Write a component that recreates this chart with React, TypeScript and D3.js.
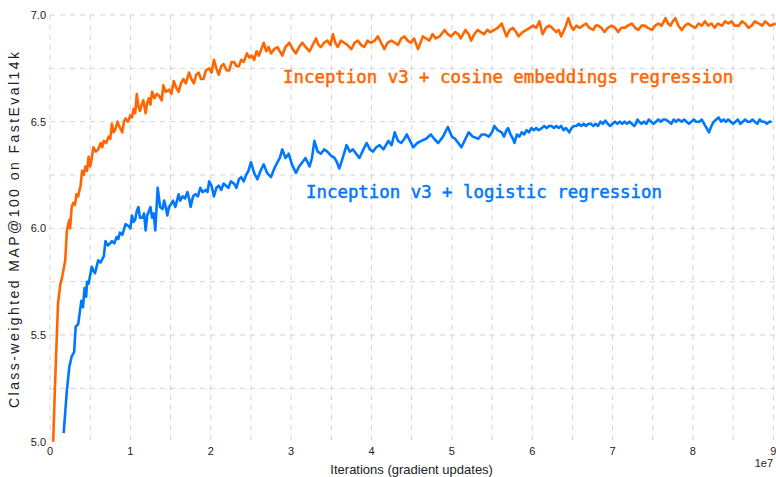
import React from "react";
import * as d3 from "d3";

// iterations in units of 1e7
const cosineIters = [0.04,0.06,0.10,0.13,0.15,0.19,0.21,0.24,0.25,0.27,0.29,0.31,0.33,0.35,0.38,0.40,0.42,0.44,0.46,0.48,0.50,0.52,0.54,0.57,0.60,0.63,0.65,0.67,0.70,0.73,0.75,0.77,0.79,0.81,0.84,0.86,0.90,0.92,0.94,0.97,1.00,1.02,1.04,1.06,1.08,1.10,1.12,1.14,1.16,1.19,1.21,1.23,1.25,1.27,1.30,1.33,1.36,1.39,1.41,1.44,1.48,1.51,1.54,1.57,1.60,1.63,1.66,1.69,1.73,1.76,1.79,1.82,1.85,1.88,1.91,1.94,1.98,2.01,2.04,2.07,2.10,2.13,2.16,2.20,2.23,2.26,2.29,2.32,2.35,2.38,2.41,2.45,2.48,2.51,2.54,2.57,2.60,2.63,2.66,2.69,2.72,2.75,2.79,2.83,2.86,2.89,2.93,2.98,3.02,3.06,3.10,3.14,3.18,3.23,3.27,3.31,3.34,3.37,3.41,3.45,3.49,3.52,3.55,3.58,3.62,3.66,3.70,3.75,3.79,3.83,3.87,3.91,3.95,3.99,4.04,4.08,4.12,4.16,4.20,4.25,4.29,4.33,4.37,4.41,4.45,4.49,4.53,4.58,4.64,4.68,4.72,4.76,4.80,4.85,4.91,4.95,4.99,5.04,5.08,5.11,5.14,5.17,5.21,5.24,5.28,5.32,5.36,5.40,5.44,5.48,5.53,5.57,5.62,5.65,5.68,5.72,5.76,5.80,5.83,5.88,5.93,5.97,6.01,6.05,6.09,6.13,6.17,6.21,6.25,6.30,6.33,6.36,6.41,6.45,6.48,6.51,6.55,6.59,6.63,6.67,6.71,6.76,6.79,6.82,6.86,6.90,6.94,6.99,7.03,7.07,7.11,7.15,7.19,7.24,7.28,7.32,7.36,7.40,7.44,7.49,7.53,7.57,7.61,7.66,7.69,7.72,7.75,7.78,7.82,7.86,7.90,7.94,7.98,8.03,8.07,8.11,8.15,8.19,8.23,8.27,8.31,8.36,8.40,8.44,8.48,8.52,8.57,8.61,8.65,8.69,8.73,8.77,8.82,8.86,8.90,8.93,8.96,9.03];
const cosineMAP = [5.00,5.24,5.65,5.74,5.77,5.85,5.99,6.04,6.00,6.10,6.12,6.11,6.16,6.15,6.20,6.27,6.25,6.29,6.27,6.335,6.29,6.33,6.38,6.36,6.37,6.40,6.38,6.41,6.40,6.43,6.42,6.49,6.45,6.46,6.50,6.48,6.45,6.50,6.515,6.50,6.53,6.52,6.56,6.54,6.63,6.57,6.55,6.58,6.60,6.54,6.59,6.61,6.58,6.64,6.61,6.63,6.62,6.60,6.67,6.64,6.65,6.63,6.69,6.66,6.64,6.68,6.70,6.68,6.73,6.70,6.68,6.72,6.73,6.70,6.70,6.74,6.75,6.73,6.79,6.75,6.72,6.76,6.77,6.74,6.74,6.78,6.78,6.76,6.76,6.79,6.78,6.82,6.80,6.81,6.79,6.83,6.81,6.84,6.87,6.83,6.85,6.82,6.84,6.85,6.83,6.81,6.85,6.87,6.84,6.82,6.85,6.87,6.85,6.83,6.86,6.89,6.86,6.85,6.87,6.88,6.86,6.91,6.87,6.85,6.88,6.87,6.86,6.84,6.87,6.88,6.86,6.85,6.88,6.87,6.88,6.90,6.87,6.84,6.87,6.88,6.87,6.86,6.89,6.90,6.88,6.87,6.89,6.84,6.90,6.89,6.88,6.91,6.89,6.90,6.93,6.91,6.90,6.92,6.91,6.89,6.91,6.93,6.91,6.88,6.91,6.93,6.92,6.91,6.93,6.92,6.93,6.94,6.96,6.93,6.90,6.93,6.94,6.92,6.90,6.92,6.93,6.94,6.95,6.94,6.97,6.91,6.94,6.95,6.94,6.92,6.93,6.90,6.94,6.985,6.95,6.93,6.95,6.94,6.95,6.96,6.94,6.93,6.95,6.95,6.94,6.92,6.94,6.95,6.94,6.92,6.94,6.94,6.95,6.96,6.94,6.93,6.95,6.95,6.94,6.93,6.95,6.96,6.95,6.985,6.96,6.95,6.97,6.985,6.95,6.93,6.95,6.96,6.95,6.94,6.96,6.95,6.97,6.95,6.96,6.94,6.96,6.95,6.97,6.96,6.97,6.95,6.95,6.97,6.96,6.94,6.95,6.97,6.96,6.95,6.97,6.96,6.95,6.96];

const logisticIters = [0.17,0.21,0.24,0.27,0.30,0.32,0.35,0.39,0.41,0.43,0.45,0.46,0.48,0.52,0.54,0.56,0.60,0.63,0.67,0.69,0.72,0.75,0.77,0.80,0.83,0.85,0.87,0.90,0.94,0.98,1.00,1.02,1.04,1.06,1.08,1.10,1.12,1.15,1.17,1.19,1.21,1.23,1.25,1.27,1.29,1.31,1.34,1.37,1.40,1.42,1.44,1.46,1.48,1.50,1.53,1.56,1.60,1.62,1.65,1.68,1.71,1.73,1.75,1.78,1.81,1.84,1.87,1.90,1.94,1.96,1.98,2.01,2.04,2.07,2.10,2.13,2.16,2.19,2.22,2.25,2.29,2.32,2.35,2.38,2.41,2.44,2.47,2.50,2.54,2.58,2.62,2.66,2.70,2.75,2.79,2.83,2.86,2.89,2.93,2.97,3.01,3.06,3.10,3.14,3.18,3.23,3.26,3.29,3.33,3.37,3.41,3.45,3.50,3.54,3.57,3.60,3.65,3.69,3.73,3.77,3.81,3.85,3.90,3.94,3.98,4.02,4.06,4.10,4.15,4.21,4.25,4.29,4.33,4.37,4.41,4.44,4.48,4.52,4.57,4.62,4.68,4.74,4.78,4.83,4.89,4.95,5.00,5.04,5.08,5.12,5.17,5.21,5.26,5.33,5.37,5.41,5.46,5.50,5.53,5.57,
  5.62,5.65,5.68,5.70,5.73,5.76,5.78,5.81,5.84,5.87,5.90,5.93,5.96,5.99,6.02,6.05,6.08,6.12,6.15,6.18,6.21,6.24,6.27,6.30,6.33,6.36,6.39,6.42,6.46,6.49,6.52,6.55,6.58,6.61,6.64,6.67,6.70,6.73,6.76,6.79,6.82,6.85,6.88,6.91,6.94,6.97,7.00,7.03,7.06,7.09,7.12,7.15,7.18,7.21,7.24,7.27,7.29,7.31,7.33,7.36,7.39,7.42,7.45,7.48,7.51,7.54,7.57,7.60,7.63,7.66,7.70,7.73,7.76,7.79,7.82,7.86,7.89,7.92,7.95,7.98,8.01,8.04,8.08,8.11,8.14,8.17,8.20,8.23,8.26,8.29,8.32,8.35,8.38,8.41,8.44,8.47,8.50,8.53,8.56,8.59,8.62,8.65,8.68,8.71,8.74,8.77,8.80,8.83,8.86,8.89,8.92,8.95,8.98,9.01];
const logisticMAP = [5.04,5.24,5.35,5.40,5.42,5.54,5.55,5.66,5.63,5.72,5.68,5.75,5.74,5.82,5.80,5.79,5.85,5.84,5.87,5.94,5.92,5.93,5.94,5.93,5.96,5.95,5.98,5.97,6.02,6.01,6.00,6.06,6.03,6.04,6.08,6.10,6.05,6.05,6.07,5.99,6.06,6.08,6.10,6.05,6.07,5.99,6.19,6.10,6.09,6.13,6.10,6.06,6.10,6.11,6.13,6.10,6.16,6.13,6.15,6.14,6.17,6.14,6.10,6.15,6.16,6.15,6.19,6.17,6.18,6.17,6.22,6.20,6.15,6.19,6.20,6.18,6.21,6.20,6.19,6.22,6.21,6.19,6.23,6.24,6.22,6.25,6.27,6.31,6.26,6.23,6.27,6.30,6.26,6.24,6.28,6.31,6.33,6.37,6.33,6.35,6.30,6.26,6.29,6.31,6.33,6.29,6.33,6.41,6.36,6.35,6.37,6.36,6.34,6.33,6.31,6.28,6.34,6.39,6.36,6.37,6.35,6.33,6.37,6.40,6.37,6.36,6.38,6.39,6.37,6.41,6.39,6.45,6.41,6.40,6.42,6.44,6.41,6.38,6.40,6.41,6.42,6.44,6.42,6.40,6.43,6.475,6.43,6.42,6.40,6.38,6.42,6.45,6.43,6.42,6.44,6.44,6.43,6.45,6.48,6.46,
  6.45,6.43,6.46,6.47,6.44,6.42,6.40,6.44,6.43,6.45,6.44,6.46,6.45,6.47,6.46,6.47,6.46,6.47,6.48,6.47,6.48,6.48,6.47,6.48,6.47,6.48,6.46,6.47,6.45,6.47,6.48,6.48,6.49,6.48,6.49,6.48,6.49,6.49,6.48,6.49,6.48,6.50,6.49,6.505,6.49,6.48,6.49,6.50,6.49,6.50,6.49,6.50,6.49,6.50,6.49,6.48,6.49,6.51,6.50,6.49,6.50,6.49,6.51,6.50,6.49,6.50,6.51,6.50,6.51,6.51,6.50,6.49,6.51,6.50,6.51,6.50,6.51,6.50,6.49,6.50,6.51,6.50,6.50,6.51,6.49,6.47,6.45,6.48,6.50,6.51,6.52,6.50,6.51,6.50,6.51,6.50,6.49,6.50,6.51,6.49,6.50,6.51,6.50,6.50,6.51,6.50,6.49,6.51,6.50,6.50,6.49,6.50,6.50];

const xTicks = [0, 1, 2, 3, 4, 5, 6, 7, 8, 9];
const yTicks = [5.0, 5.5, 6.0, 6.5, 7.0];
const xGrid = [0, 0.5, 1, 1.5, 2, 2.5, 3, 3.5, 4, 4.5, 5, 5.5, 6, 6.5, 7, 7.5, 8, 8.5, 9];
const yGrid = [5.25, 5.5, 5.75, 6.0, 6.25, 6.5, 6.75, 7.0];

const ORANGE = "#ff6600";
const BLUE = "#0077ff";

export default function App() {
  const W = 776, H = 477;
  const x = d3.scaleLinear().domain([0, 9]).range([50, 773.3]);
  const y = d3.scaleLinear().domain([5, 7]).range([441.7, 15]);
  const cosine = cosineIters.map((t, i) => [t, cosineMAP[i]] as [number, number]);
  const logistic = logisticIters.map((t, i) => [t, logisticMAP[i]] as [number, number]);
  const line = d3.line<[number, number]>().x(d => x(d[0])).y(d => y(d[1]));
  const font = "'Liberation Sans', Arial, sans-serif";
  const mono = "'DejaVu Sans Mono', monospace";
  return (
    <svg width={W} height={H} style={{ position: "absolute", left: 0, top: 0, background: "#fff" }}>
      <g stroke="#d3d3d3" strokeWidth={1} strokeDasharray="5,5" fill="none">
        {xGrid.map(t => (
          <line key={"gx" + t} x1={x(t)} x2={x(t)} y1={y(7)} y2={y(5)} />
        ))}
        {yGrid.map(v => (
          <line key={"gy" + v} x1={x(0)} x2={W} y1={y(v)} y2={y(v)} />
        ))}
      </g>
      <path d={line(cosine) || ""} fill="none" stroke={ORANGE} strokeWidth={2.6} strokeLinejoin="round" />
      <path d={line(logistic) || ""} fill="none" stroke={BLUE} strokeWidth={2.6} strokeLinejoin="round" />
      <g fontFamily={font} fontSize={11} fill="#222">
        {xTicks.map(t => (
          <text key={"xt" + t} x={x(t)} y={455} textAnchor="middle">{t}</text>
        ))}
        {yTicks.map(v => (
          <text key={"yt" + v} x={46} y={y(v)} dy="0.35em" textAnchor="end">{v.toFixed(1)}</text>
        ))}
        <text x={773} y={467} textAnchor="end">1e7</text>
      </g>
      <text x={(x(0) + x(9)) / 2} y={474} textAnchor="middle" fontFamily={font} fontSize={13} fill="#222">
        Iterations (gradient updates)
      </text>
      <text transform={`translate(19, 230) rotate(-90)`} textAnchor="middle" fontFamily={font} fontSize={14} fill="#222" textLength={356} lengthAdjust="spacing">
        Class-weighted MAP@100 on FastEval14k
      </text>
      <text x={283} y={82.7} fontFamily={mono} fontSize={17.4} fontWeight="normal" fill={ORANGE} stroke={ORANGE} strokeWidth={0.5}>
        Inception v3 + cosine embeddings regression
      </text>
      <text x={306} y={198.3} fontFamily={mono} fontSize={17.4} fontWeight="normal" fill={BLUE} stroke={BLUE} strokeWidth={0.5}>
        Inception v3 + logistic regression
      </text>
    </svg>
  );
}
